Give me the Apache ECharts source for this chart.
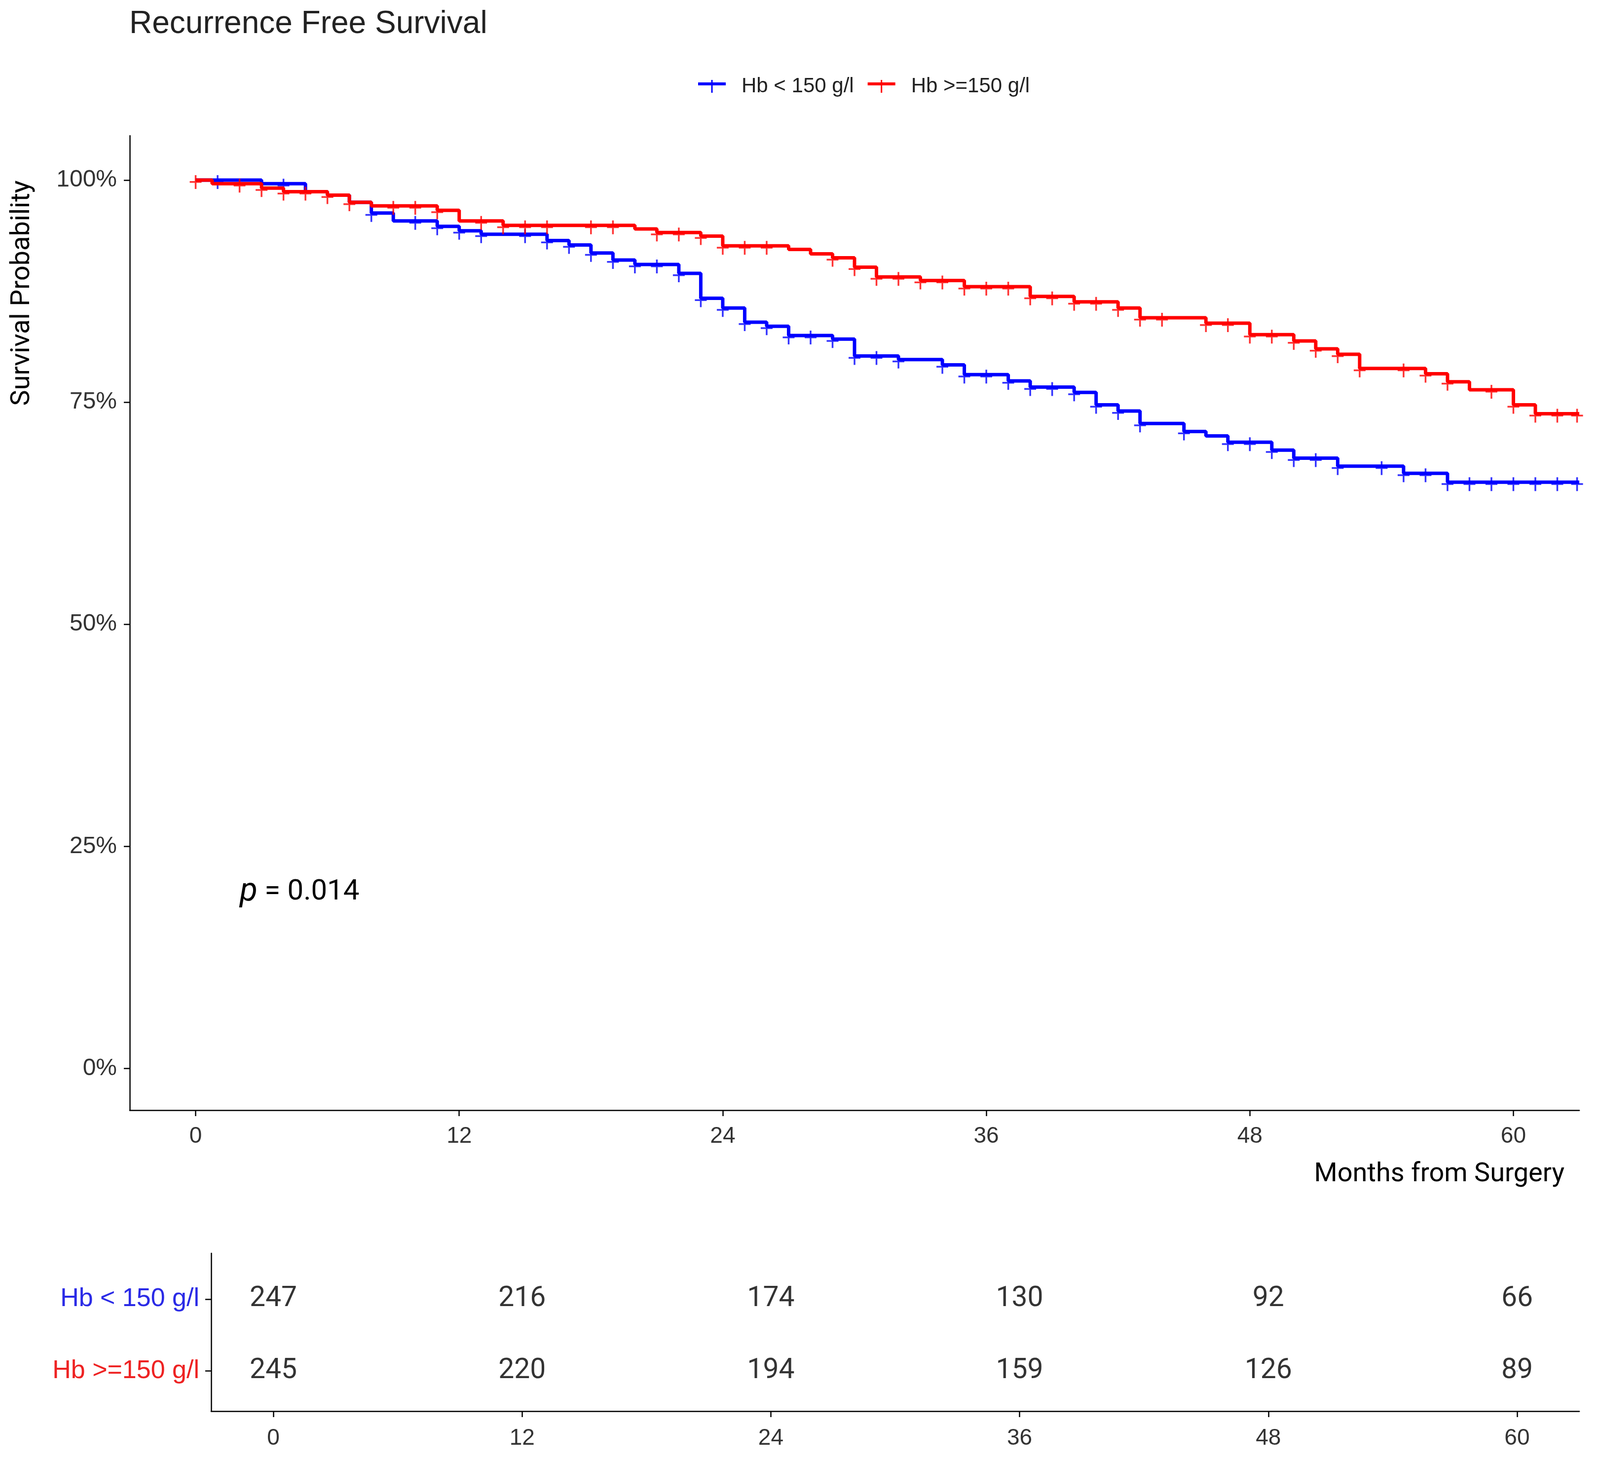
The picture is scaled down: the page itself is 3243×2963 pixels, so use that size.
<!DOCTYPE html>
<html>
<head>
<meta charset="utf-8">
<script src="https://cdn.jsdelivr.net/npm/echarts@6/dist/echarts.min.js"></script>
<style>
html,body{margin:0;padding:0;background:#fff;}
#chart{width:3243px;height:2963px;}
</style>
</head>
<body>
<div id="chart"></div>
<script>
// ---- data ----
var groupNames = ['Hb < 150 g/l', 'Hb >=150 g/l'];
var lowSteps = [[0,1.0],[3,0.996],[5,0.987],[6,0.983],[7,0.975],[8,0.963],[9,0.954],[11,0.948],[12,0.943],[13,0.939],[16,0.932],[17,0.927],[18,0.918],[19,0.910],[20,0.905],[22,0.895],[23,0.867],[24,0.856],[25,0.840],[26,0.8355],[27,0.825],[29,0.821],[30,0.802],[32,0.798],[34,0.792],[35,0.781],[37,0.774],[38,0.767],[40,0.761],[41,0.747],[42,0.740],[43,0.726],[45,0.717],[46,0.712],[47,0.705],[49,0.696],[50,0.687],[52,0.678],[55,0.670],[57,0.660],[63,0.660]];
var highSteps = [[0,1.0],[0.75,0.996],[3,0.991],[4,0.987],[6,0.983],[7,0.975],[8,0.971],[11,0.966],[12,0.954],[14,0.949],[20,0.945],[21,0.941],[23,0.937],[24,0.926],[27,0.922],[28,0.917],[29,0.9125],[30,0.902],[31,0.891],[33,0.887],[35,0.880],[38,0.869],[40,0.863],[42,0.856],[43,0.845],[46,0.839],[48,0.826],[50,0.819],[51,0.810],[52,0.804],[53,0.788],[56,0.782],[57,0.773],[58,0.764],[60,0.747],[61,0.737],[63,0.737]];
var lowCensor = [1,4,8,10,11,12,13,15,16,17,18,19,20,21,22,23,24,25,26,27,28,29,30,31,32,34,35,36,37,38,39,40,41,42,43,45,47,48,49,50,51,52,54,55,56,57,58,59,60,61,62,62.9];
var highCensor = [0,2,3,4,5,6,7,9,10,11,13,14,15,16,18,19,21,22,23,24,25,26,29,30,31,32,33,34,35,36,37,38,39,40,41,42,43,44,46,47,48,49,50,51,52,53,55,56,57,59,60,61,62,62.9];
var riskTimes = [0,12,24,36,48,60];
var riskLow = [247,216,174,130,92,66];
var riskHigh = [245,220,194,159,126,89];
var yTicks = [0,0.25,0.5,0.75,1];
var xTicks = [0,12,24,36,48,60];
var pText = '0.014';

// ---- helpers ----
function survAt(steps, t){
  var v = steps[0][1];
  for (var i=0;i<steps.length;i++){ if (steps[i][0] <= t) v = steps[i][1]; }
  return v;
}
function censorPoints(steps, times){
  return times.map(function(t){ return [t, survAt(steps, t)]; });
}
var BLUE = '#0000FF', RED = '#FF0000';
var plusPath = 'path://M0,12 L24,12 L24,15.5 L0,15.5 Z M10.25,0 L13.75,0 L13.75,28 L10.25,28 Z';
var legendIcon = 'path://M0,5 L56,5 L56,11 L0,11 Z M26.5,0 L29.5,0 L29.5,26 L26.5,26 Z';
var tickFont = 'Liberation Sans';
var axisColor = '#000';

var chart = echarts.init(document.getElementById('chart'), null, {renderer:'canvas'});
var option = {
  backgroundColor: '#fff',
  animation: false,
  legend: {
    left: 1410, top: 149,
    itemWidth: 56, itemHeight: 26, itemGap: 28,
    textStyle: {fontFamily: tickFont, fontSize: 42, color: '#222', padding: [0,0,0,27]},
    data: [
      {name: groupNames[0], icon: legendIcon, itemStyle:{color: BLUE}},
      {name: groupNames[1], icon: legendIcon, itemStyle:{color: RED}}
    ]
  },
  grid: [
    {left: 263, top: 275, width: 2938, height: 1975},
    {left: 428, top: 2540, width: 2773, height: 320}
  ],
  xAxis: [
    {
      gridIndex: 0, type: 'value', min: -3, max: 63,
      axisLine: {show:true, onZero:false, lineStyle:{color: axisColor, width: 2.5}},
      axisTick: {show:true, customValues: xTicks, length: 12, lineStyle:{color: axisColor, width: 2.5}},
      axisLabel: {customValues: xTicks, margin: 30, fontFamily: tickFont, fontSize: 46, color: '#333'},
      splitLine: {show:false}
    },
    {
      gridIndex: 1, type: 'value', min: -3, max: 63,
      axisLine: {show:true, onZero:false, lineStyle:{color: axisColor, width: 2.5}},
      axisTick: {show:true, customValues: xTicks, length: 12, lineStyle:{color: axisColor, width: 2.5}},
      axisLabel: {customValues: xTicks, margin: 32, fontFamily: tickFont, fontSize: 46, color: '#333'},
      splitLine: {show:false}
    }
  ],
  yAxis: [
    {
      gridIndex: 0, type: 'value', min: -0.047, max: 1.05,
      axisLine: {show:true, onZero:false, lineStyle:{color: axisColor, width: 2.5}},
      axisTick: {show:true, customValues: yTicks, length: 12, lineStyle:{color: axisColor, width: 2.5}},
      axisLabel: {customValues: yTicks, margin: 26, fontFamily: tickFont, fontSize: 48, color: '#333',
        formatter: function(v){ return Math.round(v*100) + '%'; }},
      splitLine: {show:false}
    },
    {
      gridIndex: 1, type: 'value', min: 0.36, max: 2.56, inverse: true,
      axisLine: {show:true, onZero:false, lineStyle:{color: axisColor, width: 2.5}},
      axisTick: {show:true, customValues: [1,2], length: 12, lineStyle:{color: axisColor, width: 2.5}},
      axisLabel: {customValues: [1,2], margin: 24, fontFamily: tickFont, fontSize: 52,
        formatter: function(v){ return v === 1 ? '{b|' + groupNames[0] + '}' : '{r|' + groupNames[1] + '}'; },
        rich: {
          b: {color: '#2a2ae6', fontFamily: tickFont, fontSize: 52},
          r: {color: '#ee2222', fontFamily: tickFont, fontSize: 52}
        }},
      splitLine: {show:false}
    }
  ],
  graphic: [
    {type:'text', left: 262, top: 17, style:{text:'Recurrence Free Survival', fontFamily: tickFont, fontSize: 64, fill:'#222'}},
    {type:'text', x: 45, y: 594, rotation: Math.PI/2, style:{text:'Survival Probability', fontFamily:'Roboto', fontSize: 54, fill:'#000', align:'center', verticalAlign:'middle'}},
    {type:'text', x: 3171, y: 2380, style:{text:'Months from Surgery', fontFamily:'Roboto', fontSize: 54, fill:'#000', align:'right', verticalAlign:'middle'}},
    {type:'text', x: 486, y: 1808, style:{
      text:'{p|p}{t| = ' + pText + '}', align:'left', verticalAlign:'middle',
      rich:{ p:{fontFamily:'Roboto', fontStyle:'italic', fontSize: 66, fill:'#000'}, t:{fontFamily:'Roboto', fontSize: 58, fill:'#000'} }
    }}
  ],
  series: [
    {name: groupNames[0], type:'line', step:'end', xAxisIndex:0, yAxisIndex:0, data: lowSteps,
      showSymbol:false, symbol:'none', lineStyle:{color: BLUE, width: 7}, itemStyle:{color: BLUE}, z: 2},
    {name: groupNames[0] + ' censor', type:'scatter', xAxisIndex:0, yAxisIndex:0, data: censorPoints(lowSteps, lowCensor),
      symbol: plusPath, symbolSize:[24,28], symbolOffset:[0,4], itemStyle:{color: BLUE}, z: 3},
    {name: groupNames[1], type:'line', step:'end', xAxisIndex:0, yAxisIndex:0, data: highSteps,
      showSymbol:false, symbol:'none', lineStyle:{color: RED, width: 7}, itemStyle:{color: RED}, z: 4},
    {name: groupNames[1] + ' censor', type:'scatter', xAxisIndex:0, yAxisIndex:0, data: censorPoints(highSteps, highCensor),
      symbol: plusPath, symbolSize:[24,28], symbolOffset:[0,4], itemStyle:{color: RED}, z: 5},
    {name: 'risk', type:'scatter', xAxisIndex:1, yAxisIndex:1, symbolSize: 0, z: 6,
      data: riskTimes.map(function(t,i){ return [t, 1, riskLow[i]]; }).concat(riskTimes.map(function(t,i){ return [t, 2, riskHigh[i]]; })),
      label: {show:true, position:'inside', fontFamily:'Roboto', fontSize: 57, color:'#000',
        formatter: function(p){ return String(p.value[2]); }}
    }
  ]
};
chart.setOption(option);
</script>
</body>
</html>
